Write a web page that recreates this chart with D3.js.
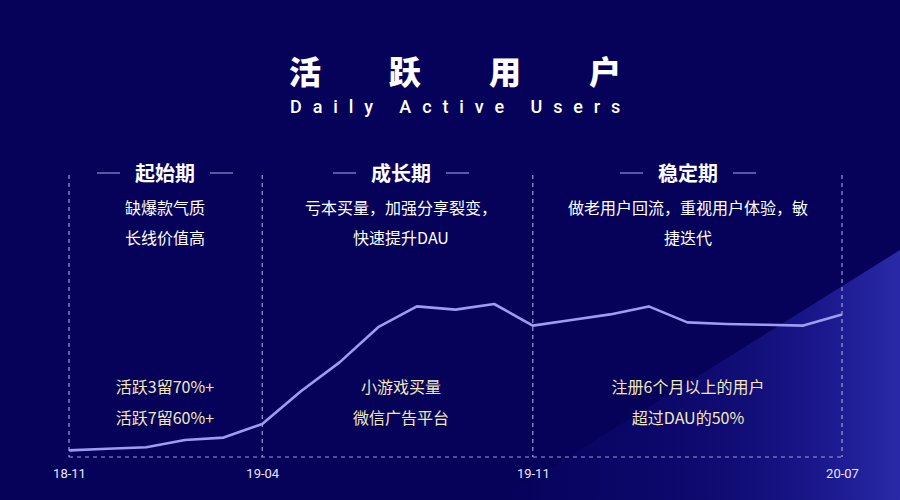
<!DOCTYPE html>
<html>
<head>
<meta charset="utf-8">
<script src="https://cdn.jsdelivr.net/npm/d3@7"></script>
<style>
  body { margin: 0; background: #06025a; }
  svg { display: block; font-family: "Noto Sans CJK SC", "Noto Sans", sans-serif; }
</style>
</head>
<body>
<div id="chart"></div>
<script>
// monthly DAU index, 2018-11 .. 2020-07
var months = ["2018-11", "2018-12", "2019-01", "2019-02", "2019-03", "2019-04", "2019-05",
  "2019-06", "2019-07", "2019-08", "2019-09", "2019-10", "2019-11", "2019-12", "2020-01",
  "2020-02", "2020-03", "2020-04", "2020-05", "2020-06", "2020-07"];
var dau = [6, 7, 8, 12.5, 14, 22.5, 43, 61, 83, 96, 94, 97.5, 84, 87.5, 91, 96, 86, 85, 84.5, 84, 91];

var tickMonths = ["2018-11", "2019-04", "2019-11", "2020-07"];
var tickLabels = ["18-11", "19-04", "19-11", "20-07"];

var titleChars = ["活", "跃", "用", "户"];
var subtitle = "Daily Active Users";

var phases = ["起始期", "成长期", "稳定期"];
var phaseDesc = [
  ["缺爆款气质", "长线价值高"],
  ["亏本买量，加强分享裂变，", "快速提升DAU"],
  ["做老用户回流，重视用户体验，敏", "捷迭代"]
];
var phaseNotes = [
  ["活跃3留70%+", "活跃7留60%+"],
  ["小游戏买量", "微信广告平台"],
  ["注册6个月以上的用户", "超过DAU的50%"]
];

var w = 900, h = 500;

// one slot per month, so ticks land on even spacing
var x = d3.scalePoint().domain(months).range([69, 842]);
var y = d3.scaleLinear().domain([0, 100]).range([460, 300]);

var svg = d3.select("#chart").append("svg").attr("width", w).attr("height", h);

// background
var defs = svg.append("defs");
var g1 = defs.append("linearGradient").attr("id", "shade").attr("x1", "0").attr("y1", "0").attr("x2", "1").attr("y2", "0");
g1.append("stop").attr("offset", "0").attr("stop-color", "#120e80").attr("stop-opacity", 0);
g1.append("stop").attr("offset", "0.5").attr("stop-color", "#14107f").attr("stop-opacity", 0.55);
g1.append("stop").attr("offset", "0.8").attr("stop-color", "#1d1a92").attr("stop-opacity", 0.9);
g1.append("stop").attr("offset", "1").attr("stop-color", "#2a2aa8").attr("stop-opacity", 1);

svg.append("rect").attr("width", w).attr("height", h).attr("fill", "#06025a");
svg.append("path").attr("d", "M500,500 L900,250 L900,500 Z").attr("fill", "url(#shade)");

// title
svg.selectAll(".tchar").data(titleChars).enter().append("text")
  .attr("x", function (d, i) { return 305 + i * 100; })
  .attr("y", 84)
  .attr("text-anchor", "middle")
  .attr("fill", "#fff")
  .style("font-size", "32px")
  .style("font-weight", "900")
  .text(function (d) { return d; });

svg.append("text")
  .attr("x", 290).attr("y", 113)
  .attr("fill", "#fff")
  .style("font-family", "Roboto, 'Noto Sans', sans-serif")
  .style("font-size", "18px")
  .style("font-weight", "500")
  .style("letter-spacing", "10.9px")
  .text(subtitle);

// dashed guides
var dash = "#9c9ce0";
svg.selectAll(".vline").data(tickMonths).enter().append("line")
  .attr("x1", function (d) { return x(d); }).attr("x2", function (d) { return x(d); })
  .attr("y1", 175).attr("y2", 457)
  .attr("stroke", dash).attr("stroke-width", 1.2).attr("stroke-dasharray", "4,4");
svg.append("line")
  .attr("x1", x(tickMonths[0])).attr("x2", x(tickMonths[3]))
  .attr("y1", 457).attr("y2", 457)
  .attr("stroke", dash).attr("stroke-width", 1.2).attr("stroke-dasharray", "4,4");

// axis labels
var xAxis = d3.axisBottom(x).tickValues(tickMonths).tickSize(0).tickPadding(0)
  .tickFormat(function (d, i) { return tickLabels[i]; });
var ax = svg.append("g").attr("transform", "translate(0,469)").call(xAxis);
ax.select(".domain").remove();
ax.selectAll("text").attr("fill", "#e6e6fa").style("font-size", "13px").style("font-weight", "400")
  .style("font-family", "Roboto, 'Noto Sans', sans-serif");

// line
var line = d3.line().x(function (d, i) { return x(months[i]); }).y(function (d) { return y(d); });
svg.append("path").datum(dau).attr("d", line)
  .attr("fill", "none").attr("stroke", "#9d9cf2").attr("stroke-width", 2.6)
  .attr("stroke-linejoin", "round");

// phase texts
var centers = [165, 401, 688];
phases.forEach(function (p, i) {
  var cx = centers[i];
  svg.append("text").attr("x", cx).attr("y", 181).attr("text-anchor", "middle")
    .attr("fill", "#fff").style("font-size", "20px").style("font-weight", "bold").text(p);
  [-1, 1].forEach(function (s) {
    svg.append("line")
      .attr("x1", cx + s * 45).attr("x2", cx + s * 68)
      .attr("y1", 173).attr("y2", 173)
      .attr("stroke", "#8f8fd8").attr("stroke-width", 1.2);
  });
  phaseDesc[i].forEach(function (t, j) {
    svg.append("text").attr("x", cx).attr("y", 214 + j * 30).attr("text-anchor", "middle")
      .attr("fill", "#fff").style("font-size", "16px").text(t);
  });
  phaseNotes[i].forEach(function (t, j) {
    svg.append("text").attr("x", cx).attr("y", 393 + j * 31).attr("text-anchor", "middle")
      .attr("fill", "#f2e8bc").style("font-size", "16px").text(t);
  });
});
</script>
</body>
</html>
